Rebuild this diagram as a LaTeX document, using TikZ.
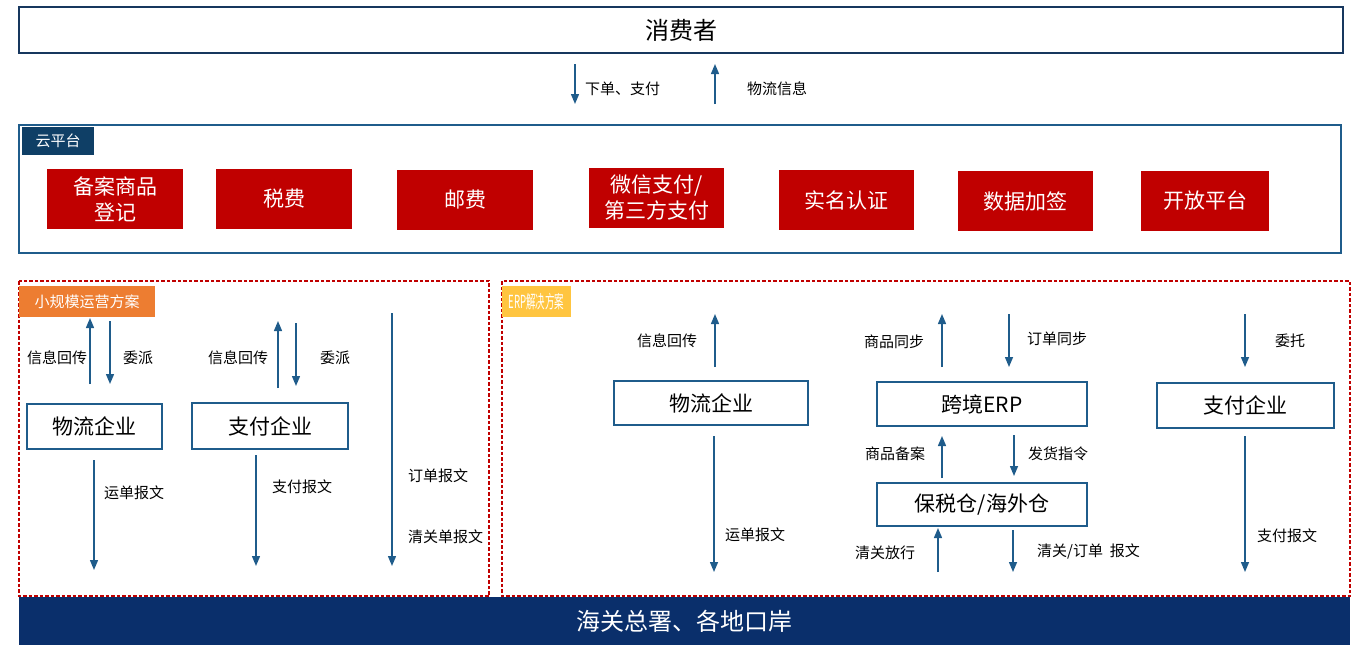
\documentclass[tikz,border=0pt]{standalone}
\usepackage{fontspec}
\setmainfont{Noto Sans CJK SC}
\usetikzlibrary{arrows.meta}
\definecolor{navy}{HTML}{17375E}
\definecolor{steel}{HTML}{1F5C8B}
\definecolor{cloudlab}{HTML}{0F3F66}
\definecolor{barblue}{HTML}{0A2F6B}
\definecolor{redbox}{HTML}{C00000}
\definecolor{orangelab}{HTML}{ED7D31}
\definecolor{yellowlab}{HTML}{FFC540}
\tikzset{
  redbox/.style={fill=redbox,text=white,inner sep=0pt,align=center,font=\fontsize{21}{26}\selectfont},
  entbox/.style={draw=steel,line width=2pt,fill=white,inner sep=0pt,font=\fontsize{21}{25}\selectfont},
  arr/.style={draw=steel,line width=1.4pt,-{Triangle[width=8pt,length=10pt]}},
  lbl/.style={font=\fontsize{15}{18}\selectfont,inner sep=0pt},
  dashbox/.style={draw=redbox,line width=1.8pt,dash pattern=on 3.5pt off 2pt},
  tag/.style={text=white,inner sep=0pt,font=\fontsize{15}{18}\selectfont}
}
\begin{document}
\begin{tikzpicture}[x=1pt,y=-1pt]
\useasboundingbox (0,0) rectangle (1363,648);
% consumer
\node[draw=navy,line width=2.6pt,minimum width=1324pt,minimum height=46pt,inner sep=0pt,font=\fontsize{24}{28}\selectfont] (cons) at (681,30) {消费者};
\coordinate (a1s) at (575,64); \coordinate (a1e) at (575,104);
\coordinate (a2s) at (715,104); \coordinate (a2e) at (715,64);
\draw[arr] (a1s) -- (a1e);
\draw[arr] (a2s) -- (a2e);
\node[lbl,anchor=west] (l1) at (585,89) {下单、支付};
\node[lbl,anchor=west] (l2) at (747,89) {物流信息};
% cloud platform
\draw[draw=steel,line width=2pt] (19,125) rectangle (1341,253);
\fill[cloudlab] (22,127) rectangle (94,155);
\node[tag] (cloud) at (58,141) {云平台};
\node[redbox,minimum width=136pt,minimum height=60pt] (r1) at (115,199) {备案商品\\登记};
\node[redbox,minimum width=136pt,minimum height=60pt] (r2) at (284,199) {税费};
\node[redbox,minimum width=136pt,minimum height=60pt] (r3) at (465,200) {邮费};
\node[redbox,minimum width=135pt,minimum height=60pt] (r4) at (656.5,198) {微信支付/\\第三方支付};
\node[redbox,minimum width=135pt,minimum height=60pt] (r5) at (846.5,200) {实名认证};
\node[redbox,minimum width=135pt,minimum height=60pt] (r6) at (1025.5,201) {数据加签};
\node[redbox,minimum width=128pt,minimum height=60pt] (r7) at (1205,201) {开放平台};
% customs bar
\fill[barblue] (19,597) rectangle (1350,645);
\node[text=white,font=\fontsize{24}{28}\selectfont] (customs) at (684,621) {海关总署、各地口岸};
% left dashed region
\draw[dashbox] (19,281) rectangle (489,596);
\fill[orangelab] (19,286) rectangle (155,317);
\node[tag] (small) at (87,301.5) {小规模运营方案};
\node[entbox,minimum width=135pt,minimum height=45pt] (lw) at (94.5,426.5) {物流企业};
\node[entbox,minimum width=156pt,minimum height=46pt] (lp) at (270,426) {支付企业};
\coordinate (b1s) at (90,384); \coordinate (b1e) at (90,318);
\coordinate (b2s) at (110,321); \coordinate (b2e) at (110,384);
\coordinate (b3s) at (278,388); \coordinate (b3e) at (278,321);
\coordinate (b4s) at (296,323); \coordinate (b4e) at (296,386);
\coordinate (b5s) at (94,460); \coordinate (b5e) at (94,570);
\coordinate (b6s) at (256,455); \coordinate (b6e) at (256,566);
\coordinate (b7s) at (392,313); \coordinate (b7e) at (392,566);
\draw[arr] (b1s) -- (b1e);
\draw[arr] (b2s) -- (b2e);
\draw[arr] (b3s) -- (b3e);
\draw[arr] (b4s) -- (b4e);
\draw[arr] (b5s) -- (b5e);
\draw[arr] (b6s) -- (b6e);
\draw[arr] (b7s) -- (b7e);
\node[lbl,anchor=west] at (27,358) {信息回传};
\node[lbl,anchor=west] at (123,358) {委派};
\node[lbl,anchor=west] at (208,358) {信息回传};
\node[lbl,anchor=west] at (320,358) {委派};
\node[lbl,anchor=west] at (104,493) {运单报文};
\node[lbl,anchor=west] at (272,487) {支付报文};
\node[lbl,anchor=west] at (408,476) {订单报文};
\node[lbl,anchor=west] at (408,537) {清关单报文};
% right dashed region
\draw[dashbox] (502,281) rectangle (1350,596);
\fill[yellowlab] (502,286) rectangle (571,317);
\node[tag,font=\fontsize{18}{20}\selectfont] (erpl) at (536.5,301.5) {\scalebox{0.53}[1]{ERP解决方案}};
\node[entbox,minimum width=194pt,minimum height=44pt] (rw) at (711,403) {物流企业};
\node[entbox,minimum width=210pt,minimum height=44pt] (erp) at (982,404) {跨境ERP};
\node[entbox,minimum width=210pt,minimum height=43pt] (bw) at (982,504.5) {保税仓/海外仓};
\node[entbox,minimum width=177pt,minimum height=45pt] (rp) at (1245.5,405.5) {支付企业};
\coordinate (c1s) at (715,367); \coordinate (c1e) at (715,314);
\coordinate (c2s) at (714,436); \coordinate (c2e) at (714,572);
\coordinate (c3s) at (942,367); \coordinate (c3e) at (942,314);
\coordinate (c4s) at (1009,314); \coordinate (c4e) at (1009,367);
\coordinate (c5s) at (942,478); \coordinate (c5e) at (942,436);
\coordinate (c6s) at (1014,435); \coordinate (c6e) at (1014,476);
\coordinate (c7s) at (938,572); \coordinate (c7e) at (938,528);
\coordinate (c8s) at (1013,530); \coordinate (c8e) at (1013,572);
\coordinate (c9s) at (1245,314); \coordinate (c9e) at (1245,367);
\coordinate (c10s) at (1245,436); \coordinate (c10e) at (1245,572);
\foreach \i in {1,...,10} {\draw[arr] (c\i s) -- (c\i e);}
\node[lbl,anchor=west] at (637,341) {信息回传};
\node[lbl,anchor=west] at (725,535) {运单报文};
\node[lbl,anchor=west] at (864,342) {商品同步};
\node[lbl,anchor=west] at (1027,339) {订单同步};
\node[lbl,anchor=west] at (865,454) {商品备案};
\node[lbl,anchor=west] at (1028,454) {发货指令};
\node[lbl,anchor=west] at (855,553) {清关放行};
\node[lbl,anchor=west] at (1037,551) {清关/订单\ \ 报文};
\node[lbl,anchor=west] at (1275,341) {委托};
\node[lbl,anchor=west] at (1257,536) {支付报文};
\end{tikzpicture}
\end{document}
